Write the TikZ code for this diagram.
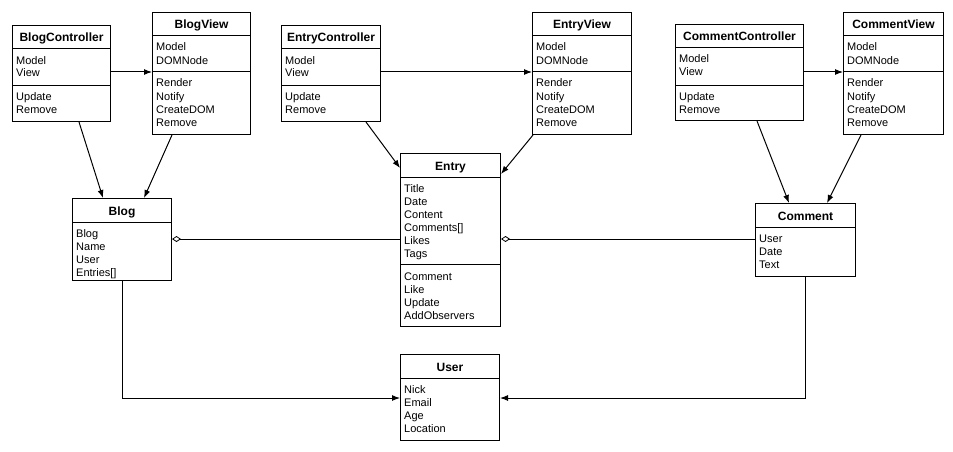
\documentclass[tikz,border=0pt]{standalone}
\usepackage{fontspec}
\setmainfont{Liberation Sans}
\usetikzlibrary{calc,arrows.meta}
\tikzset{
  box/.style={draw, line width=1pt, rectangle, inner sep=0pt, anchor=north west},
  title/.style={font=\bfseries\fontsize{12}{14}\selectfont, anchor=base, inner sep=0pt},
  member/.style={font=\fontsize{11}{13}\selectfont, anchor=base west, inner sep=0pt},
  sep/.style={line width=1pt},
  arr/.style={line width=1pt, -{Latex[length=8pt,width=6pt]}},
  agg/.style={line width=1pt, {Diamond[open,length=9pt,width=6pt,line width=0.8pt]}-},
}
% #1 name, #2 x, #3 y, #4 w, #5 h, #6 title
\newcommand\umlbox[6]{%
  \node[box, minimum width=#4pt, minimum height=#5pt] (#1) at (#2,#3) {};
  \node[title] (#1-t) at ($(#1.north)+(0,17)$) {#6};
  \draw[sep] ($(#1.north west)+(0,24)$) -- ($(#1.north east)+(0,24)$);
}
% #1 name, #2 offset of divider from top
\newcommand\umldiv[2]{%
  \draw[sep] ($(#1.north west)+(0,#2)$) -- ($(#1.north east)+(0,#2)$);
}
% #1 name, #2 offset of first baseline from top, #3 list
\newcommand\umlmembers[3]{%
  \foreach \t [count=\i from 0] in {#3} {
    \node[member] at ($(#1.north west)+(4,{#2+13*\i})$) {\t};
  }
}
\begin{document}
\begin{tikzpicture}[x=1pt,y=-1pt]
\useasboundingbox (0,0) rectangle (953,452);
\fill[white] (0,0) rectangle (953,452);

% BlogController
\umlbox{bc}{12}{25}{98}{96}{BlogController}
\umldiv{bc}{60}
\umlmembers{bc}{39}{Model,View}
\umlmembers{bc}{75}{Update,Remove}

% BlogView
\umlbox{bv}{152}{12}{98}{122}{BlogView}
\umldiv{bv}{60}
\umlmembers{bv}{39}{Model,DOMNode}
\umlmembers{bv}{75}{Render,Notify,CreateDOM,Remove}

% EntryController
\umlbox{ec}{281}{25}{99}{96}{EntryController}
\umldiv{ec}{60}
\umlmembers{ec}{39}{Model,View}
\umlmembers{ec}{75}{Update,Remove}

% EntryView
\umlbox{ev}{532}{12}{99}{122}{EntryView}
\umldiv{ev}{60}
\umlmembers{ev}{39}{Model,DOMNode}
\umlmembers{ev}{75}{Render,Notify,CreateDOM,Remove}

% CommentController
\umlbox{cc}{675}{24}{128}{96}{CommentController}
\umldiv{cc}{61}
\umlmembers{cc}{39}{Model,View}
\umlmembers{cc}{76}{Update,Remove}

% CommentView
\umlbox{cv}{843}{12}{100}{122}{CommentView}
\umldiv{cv}{60}
\umlmembers{cv}{39}{Model,DOMNode}
\umlmembers{cv}{75}{Render,Notify,CreateDOM,Remove}

% Entry
\umlbox{entry}{400}{153}{100}{173}{Entry}
\umldiv{entry}{111}
\umlmembers{entry}{39}{Title,Date,Content,Comments[],Likes,Tags}
\umlmembers{entry}{127}{Comment,Like,Update,AddObservers}

% Blog
\umlbox{blog}{72}{198}{99}{82}{Blog}
\umlmembers{blog}{39}{Blog,Name,User,Entries[]}

% Comment
\umlbox{comment}{755}{203}{100}{73}{Comment}
\umlmembers{comment}{39}{User,Date,Text}

% User
\umlbox{user}{400}{354}{99}{86}{User}
\umlmembers{user}{39}{Nick,Email,Age,Location}

% controller -> view
\draw[arr] ($(bc.north east)+(0,47)$) -- ($(bv.north west)+(0,60)$);
\draw[arr] ($(ec.north east)+(0,47)$) -- ($(ev.north west)+(0,60)$);
\draw[arr] ($(cc.north east)+(0,48)$) -- ($(cv.north west)+(0,60)$);

% controller/view -> model
\draw[arr] ($(bc.south west)+(67,0)$) -- ($(blog.north west)+(31,0)$);
\draw[arr] ($(bv.south west)+(20,0)$) -- ($(blog.north west)+(72,0)$);
\draw[arr] ($(ec.south west)+(85,0)$) -- ($(entry.north west)+(0,15)$);
\draw[arr] ($(ev.south west)+(1,0)$) -- ($(entry.north east)+(0,21)$);
\draw[arr] ($(cc.south west)+(82,0)$) -- ($(comment.north west)+(34,0)$);
\draw[arr] ($(cv.south west)+(18,0)$) -- ($(comment.north west)+(72,0)$);

% aggregations
\draw[agg] ($(blog.north east)+(0,41)$) -- ($(entry.north west)+(0,86)$);
\draw[agg] ($(entry.north east)+(0,86)$) -- ($(comment.north west)+(0,36)$);

% associations to User
\draw[arr] ($(blog.south west)+(50,0)$) |- ($(user.north west)+(0,44)$);
\draw[arr] ($(comment.south west)+(50,0)$) |- ($(user.north east)+(0,44)$);
\end{tikzpicture}
\end{document}
